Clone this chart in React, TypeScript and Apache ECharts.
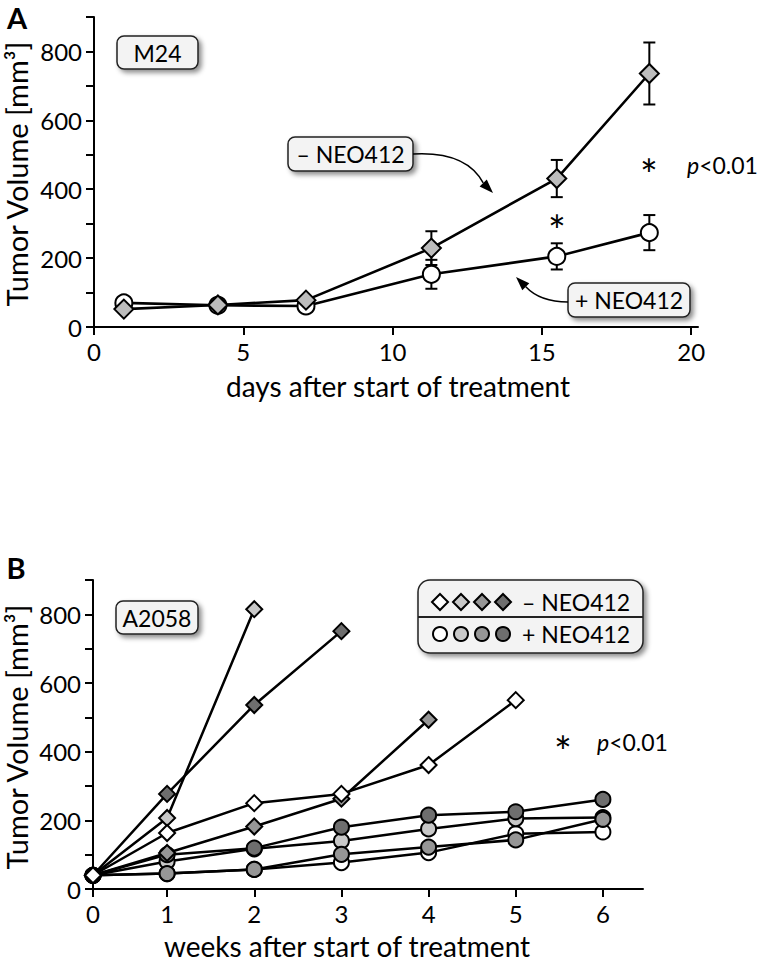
import React, { useEffect, useRef } from "react";
import * as echarts from "echarts";

// ---------- Panel A (M24) ----------
const daysA = [1, 4.15, 7.1, 11.3, 15.5, 18.6];
const minusA = [52, 64, 78, 229, 431, 736];
const minusErrA = [0, 0, 0, 49, 54, 90];
const plusA = [70, 63, 61, 153, 205, 274];
const plusErrA = [0, 0, 0, 42, 38, 51];
const dayTicksA = [0, 5, 10, 15, 20];

// ---------- Panel B (A2058) ----------
// first measurement sits at the axis origin (labelled 0)
const weeksB = [0.15, 1, 2, 3, 4, 5, 6];
const weekLabelsB = ["0", "1", "2", "3", "4", "5", "6"];
const minusWhiteB = [40, 163, 250, 277, 361, 550];
const minusLightB = [40, 207, 815];
const minusMidB = [40, 105, 182, 263, 493];
const minusDarkB = [40, 277, 536, 751];
const plusWhiteB = [40, 45, 57, 77, 106, 161, 166];
const plusLightB = [40, 80, 117, 140, 175, 205, 208];
const plusGrayB = [40, 45, 57, 101, 122, 143, 203];
const plusDarkB = [40, 100, 119, 180, 215, 225, 261];

const yTicks = [0, 100, 200, 300, 400, 500, 600, 700, 800, 900];
const yLabels = [0, 200, 400, 600, 800];

const FONT = "Lato";
const WHITE = "#ffffff";
const LIGHT = "#c8c8c8";
const MID = "#969696";
const DARK = "#6e6e6e";

function App() {
  const ref = useRef<HTMLDivElement>(null);

  useEffect(() => {
    if (!ref.current) return;
    const chart = echarts.init(ref.current, undefined, { renderer: "svg" });

    const axisLine = { show: true, lineStyle: { color: "#000", width: 2 } };
    const axisTick = { show: true, length: 8, lineStyle: { color: "#000", width: 2 } };
    const axisLabelBase = { color: "#000", fontSize: 24, fontFamily: FONT, margin: 12 };

    const yAxisDef = (gridIndex: number) => ({
      type: "value",
      gridIndex,
      min: 0,
      max: 900,
      axisLine,
      axisTick: { ...axisTick, customValues: yTicks },
      axisLabel: { ...axisLabelBase, customValues: yLabels },
      splitLine: { show: false },
    });

    const lineSeries = (
      name: string,
      xs: number[],
      ys: number[],
      symbol: string,
      fill: string,
      size: number,
      width: number,
      axisIndex: number
    ) => ({
      type: "line",
      name,
      xAxisIndex: axisIndex,
      yAxisIndex: axisIndex,
      data: ys.map((v, i) => [xs[i], v]),
      symbol,
      symbolSize: size,
      showAllSymbol: true,
      lineStyle: { color: "#000", width },
      itemStyle: { color: fill, borderColor: "#000", borderWidth: 2 },
      emphasis: { disabled: true },
      z: 3,
    });

    const errData = (vals: number[], errs: number[]) =>
      daysA
        .map((d, i) => [d, vals[i] - errs[i], vals[i] + errs[i], errs[i]])
        .filter((r) => r[3] > 0);

    const errSeries = (data: number[][]) => ({
      type: "custom",
      xAxisIndex: 0,
      yAxisIndex: 0,
      data,
      z: 2,
      renderItem: (_p: any, api: any) => {
        const x = api.value(0);
        const lo = api.coord([x, api.value(1)]);
        const hi = api.coord([x, api.value(2)]);
        const w = 6;
        const st = { stroke: "#000", lineWidth: 2 };
        return {
          type: "group",
          children: [
            { type: "line", shape: { x1: lo[0], y1: lo[1], x2: hi[0], y2: hi[1] }, style: st },
            { type: "line", shape: { x1: lo[0] - w, y1: lo[1], x2: lo[0] + w, y2: lo[1] }, style: st },
            { type: "line", shape: { x1: hi[0] - w, y1: hi[1], x2: hi[0] + w, y2: hi[1] }, style: st },
          ],
        };
      },
    });

    const boxStyle = {
      fill: "#f3f3f3",
      stroke: "#222",
      lineWidth: 1.5,
      shadowBlur: 5,
      shadowOffsetX: 3,
      shadowOffsetY: 3,
      shadowColor: "rgba(0,0,0,0.45)",
    };

    const box = (x: number, y: number, w: number, h: number, text: string, r = 7) => ({
      type: "group",
      children: [
        { type: "rect", shape: { x, y, width: w, height: h, r }, style: boxStyle, z: 10 },
        {
          type: "text",
          x: x + w / 2,
          y: y + h / 2,
          style: { text, fontSize: 23, fontFamily: FONT, fill: "#000", align: "center", verticalAlign: "middle" },
          z: 11,
        },
      ],
    });

    const txt = (x: number, y: number, text: string, size: number, extra: any = {}) => ({
      type: "text",
      x,
      y,
      z: 11,
      ...extra,
      style: {
        text,
        fontSize: size,
        fontFamily: FONT,
        fill: "#000",
        align: "center",
        verticalAlign: "middle",
        ...(extra.style || {}),
      },
    });

    const pText = (x: number, y: number) => ({
      type: "text",
      x,
      y,
      z: 11,
      style: {
        text: "{i|p}<0.01",
        fontSize: 23,
        fontFamily: FONT,
        fill: "#000",
        align: "left",
        verticalAlign: "middle",
        rich: { i: { fontStyle: "italic", fontSize: 23, fontFamily: FONT, fill: "#000" } },
      },
    });

    const star = (x: number, y: number) => txt(x, y + 9, "*", 42);

    const arrowHead = (tx: number, ty: number, dx: number, dy: number) => {
      const L = 14, H = 5;
      const bx = tx - L * dx, by = ty - L * dy;
      const nx = -dy, ny = dx;
      return {
        type: "polygon",
        shape: { points: [[tx, ty], [bx + H * nx, by + H * ny], [bx - H * nx, by - H * ny]] },
        style: { fill: "#000" },
        z: 11,
      };
    };

    const legendDiamond = (cx: number, cy: number, fill: string) => ({
      type: "polygon",
      shape: { points: [[cx, cy - 8], [cx + 8, cy], [cx, cy + 8], [cx - 8, cy]] },
      style: { fill, stroke: "#000", lineWidth: 2 },
      z: 12,
    });
    const legendCircle = (cx: number, cy: number, fill: string) => ({
      type: "circle",
      shape: { cx, cy, r: 7 },
      style: { fill, stroke: "#000", lineWidth: 2 },
      z: 12,
    });

    const option: any = {
      animation: false,
      textStyle: { fontFamily: FONT },
      grid: [
        { left: 94, top: 17, width: 604, height: 310 },
        { left: 93, top: 580, width: 550, height: 309 },
      ],
      xAxis: [
        {
          type: "value",
          gridIndex: 0,
          min: 0,
          max: 20.23,
          axisLine,
          axisTick: { ...axisTick, customValues: dayTicksA },
          axisLabel: { ...axisLabelBase, customValues: dayTicksA },
          splitLine: { show: false },
        },
        {
          type: "value",
          gridIndex: 1,
          min: 0.15,
          max: 6.46,
          axisLine,
          axisTick: { ...axisTick, customValues: weeksB },
          axisLabel: {
            ...axisLabelBase,
            customValues: weeksB,
            formatter: (v: number) => weekLabelsB[weeksB.indexOf(v)] ?? String(Math.round(v)),
          },
          splitLine: { show: false },
        },
      ],
      yAxis: [yAxisDef(0), yAxisDef(1)],
      series: [
        errSeries(errData(plusA, plusErrA)),
        errSeries(errData(minusA, minusErrA)),
        lineSeries("+ NEO412", daysA, plusA, "circle", WHITE, 17, 2.6, 0),
        lineSeries("– NEO412", daysA, minusA, "diamond", "#bcbcbc", 19, 2.6, 0),

        lineSeries("+ NEO412 a", weeksB, plusWhiteB, "circle", WHITE, 15, 2.5, 1),
        lineSeries("+ NEO412 b", weeksB, plusLightB, "circle", LIGHT, 15, 2.5, 1),
        lineSeries("+ NEO412 c", weeksB, plusGrayB, "circle", MID, 15, 2.5, 1),
        lineSeries("+ NEO412 d", weeksB, plusDarkB, "circle", DARK, 15, 2.5, 1),
        lineSeries("– NEO412 d", weeksB, minusDarkB, "diamond", DARK, 16, 2.5, 1),
        lineSeries("– NEO412 c", weeksB, minusMidB, "diamond", MID, 16, 2.5, 1),
        lineSeries("– NEO412 b", weeksB, minusLightB, "diamond", LIGHT, 16, 2.5, 1),
        lineSeries("– NEO412 a", weeksB, minusWhiteB, "diamond", WHITE, 16, 2.5, 1),
      ],
      graphic: [
        // panel letters
        txt(17, 17, "A", 29, { style: { fontWeight: "bold" } }),
        txt(16, 567, "B", 29, { style: { fontWeight: "bold" } }),
        // axis titles
        txt(16, 174, "Tumor Volume [mm³]", 29, { rotation: Math.PI / 2 }),
        txt(16, 737, "Tumor Volume [mm³]", 29, { rotation: Math.PI / 2 }),
        txt(398, 386, "days after start of treatment", 28),
        txt(347, 946, "weeks after start of treatment", 28),
        // panel A annotations
        box(117, 36, 81, 33, "M24"),
        box(288, 137, 125, 34, "– NEO412"),
        box(568, 283, 122, 34, "+ NEO412"),
        {
          type: "bezierCurve",
          shape: { x1: 413, y1: 154, cpx1: 466, cpy1: 151, x2: 483.2, y2: 182.9 },
          style: { stroke: "#000", lineWidth: 1.5, fill: "none" },
          z: 11,
        },
        arrowHead(493, 193, 0.7, 0.72),
        {
          type: "bezierCurve",
          shape: { x1: 568, y1: 302, cpx1: 540, cpy1: 302, x2: 525.8, y2: 286.8 },
          style: { stroke: "#000", lineWidth: 1.5, fill: "none" },
          z: 11,
        },
        arrowHead(516, 277, -0.7, -0.7),
        star(557, 221),
        star(649, 165),
        pText(687, 165),
        // panel B annotations
        box(116, 601, 82, 33, "A2058"),
        { type: "rect", shape: { x: 418, y: 580, width: 225, height: 73, r: 12 }, style: boxStyle, z: 10 },
        {
          type: "line",
          shape: { x1: 418, y1: 617, x2: 643, y2: 617 },
          style: { stroke: "#222", lineWidth: 2 },
          z: 11,
        },
        legendDiamond(440, 602, WHITE),
        legendDiamond(461, 602, LIGHT),
        legendDiamond(482, 602, MID),
        legendDiamond(503, 602, DARK),
        legendCircle(440, 634, WHITE),
        legendCircle(461, 634, LIGHT),
        legendCircle(482, 634, MID),
        legendCircle(503, 634, DARK),
        txt(522, 602, "– NEO412", 23, { style: { align: "left" } }),
        txt(522, 634, "+ NEO412", 23, { style: { align: "left" } }),
        star(563, 742),
        pText(597, 742),
      ],
    };

    chart.setOption(option);
    return () => chart.dispose();
  }, []);

  return (
    <div
      ref={ref}
      style={{ position: "absolute", left: 0, top: 0, width: 757, height: 965 }}
    />
  );
}

export default App;
